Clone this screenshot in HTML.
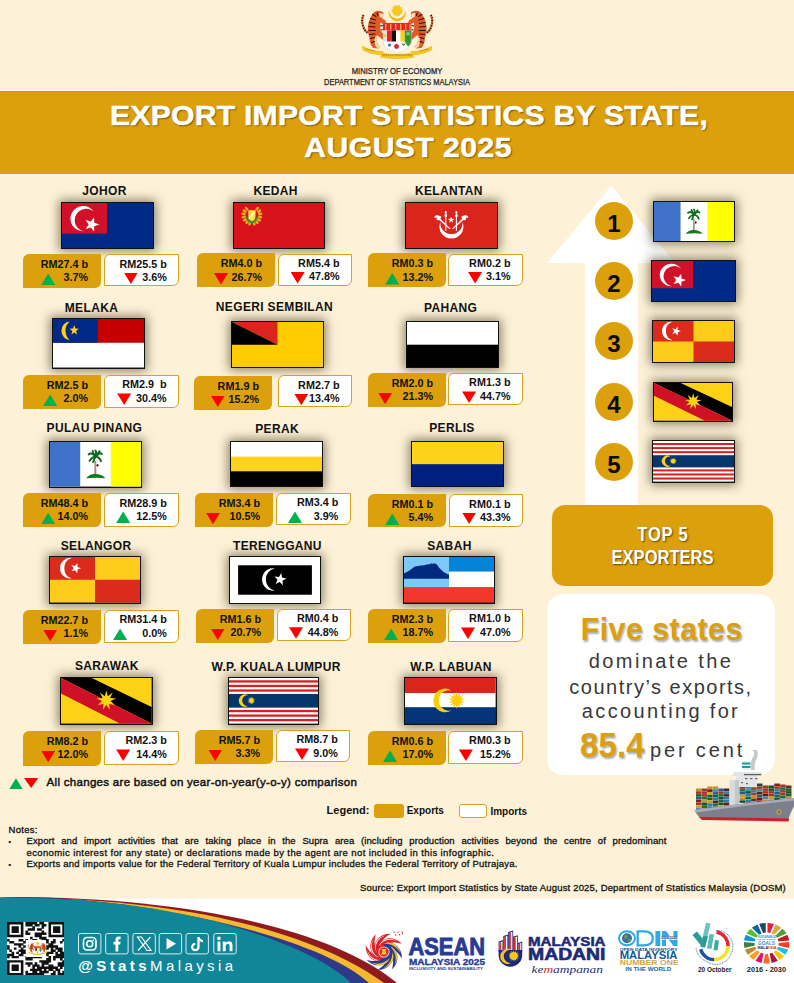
<!DOCTYPE html>
<html><head><meta charset="utf-8">
<style>
*{margin:0;padding:0;box-sizing:border-box}
html,body{width:794px;height:983px;overflow:hidden}
body{position:relative;background:#fdf2d8;font-family:"Liberation Sans",sans-serif;color:#111}
.a{position:absolute}
.band{position:absolute;left:0;top:90.9px;width:794px;height:82.8px;background:#dba00b;box-shadow:0 -1px 0 #fffaee,0 1px 0 #fffaee,inset 0 1px 0 #d89a02,inset 0 -1px 0 #d89a02}
.title{position:absolute;color:#fff;font-weight:bold;font-size:30.2px;line-height:1;text-shadow:1px 1.5px 1.5px rgba(60,40,0,.75);white-space:nowrap;transform:scaleY(.9);transform-origin:0 0;-webkit-text-stroke:.5px #fff}
.sn{position:absolute;width:200px;text-align:center;font-weight:bold;font-size:12px;line-height:14px;color:#111;white-space:nowrap;letter-spacing:.35px}
.flag{position:absolute;border:1px solid #111;box-shadow:0 0 10px 2px rgba(50,35,5,.55);background:#222;overflow:hidden}
.flag svg{display:block}
.gbox{position:absolute;background:#dba00b;border-radius:6px 0 6px 0}
.ibox{position:absolute;background:#fff;border:1px solid #d9a21a;border-radius:6px 0 6px 0}
.bt{position:absolute;font-weight:bold;font-size:10.8px;line-height:12px;white-space:nowrap;color:#111}
.tri{position:absolute}
.circ{position:absolute;width:38px;height:38px;border-radius:50%;background:#dba00b;color:#0a0a0a;font-weight:bold;font-size:24px;line-height:43px;text-align:center}
.top5{position:absolute;left:552px;top:505px;width:221px;height:80.5px;background:#dba00b;border-radius:13px}
.t5{position:absolute;left:552px;width:221px;text-align:center;color:#fff;font-weight:bold;font-size:16.5px;line-height:1;text-shadow:1px 1px 1.5px rgba(60,40,0,.75);transform:scaleY(1.2);transform-origin:0 0}
.wbox{position:absolute;left:547px;top:594px;width:228px;height:181px;background:#fff;border-radius:16px}
.wt{position:absolute;left:547px;width:228px;text-align:center;white-space:nowrap;line-height:1}
.note{position:absolute;font-size:9.5px;line-height:11px;color:#111;white-space:nowrap;-webkit-text-stroke:.3px #111}
</style></head><body>

<!-- coat of arms -->
<svg class="a" style="left:355px;top:0" width="85" height="62" viewBox="0 0 85 62">
  <defs>
    <g id="tiger">
      <path d="M8.5 15 Q6 20 8 26 Q9.5 31 13 33" fill="none" stroke="#e0622a" stroke-width="2"/>
      <path d="M8.5 15 Q6 20 8 26 Q9.5 31 13 33" fill="none" stroke="#3a1808" stroke-width="2" stroke-dasharray="1 1.6"/>
      <path d="M20 11.5 Q25 9.5 28.5 12.5 L28 16.5 L26.5 18 L30 20 L31.5 22.5 L30 24.5 L27 23.5 L25.5 22.5 Q24.5 27 26 31 L29.5 35.5 L31 39 L28.5 40.5 L24.5 37 L22 35 Q20.5 40 22.5 44 L25 46.5 L23.5 48.5 L18 48 Q14.5 44 14.5 38 Q12 32 13 26 Q14 19 17 15 Q18 12.5 20 11.5Z" fill="#e25a28"/>
      <path d="M24 13 Q27 12.5 28.3 14.5 L27.5 17 L25 17.5Z" fill="#f6e6c8"/>
      <path d="M22.5 35.5 Q20.5 40 22.5 44 L25 46.5 L23.5 48.5 L21 47 Q18.5 42 20 37Z" fill="#f3d6b0"/>
      <g stroke="#2a1208" stroke-width="1.05" fill="none" stroke-linecap="round">
        <path d="M17.5 14.5 L21 16.5"/><path d="M15.5 18.5 L20.5 20"/><path d="M14.5 22.5 L20 23.5"/>
        <path d="M14 26.5 L20 27"/><path d="M14 30.5 L20.5 30.5"/><path d="M14.5 34.5 L20 34"/>
        <path d="M15.5 38.5 L19.5 37.5"/><path d="M16.5 42.5 L19.5 41.5"/><path d="M22 13 L23 15.5"/>
        <path d="M25.5 26 L28 25.5"/><path d="M26.5 30 L29 29.5"/>
      </g>
    </g>
  <g id="coa">
  <use href="#tiger"/>
  <use href="#tiger" transform="translate(84.4,0) scale(-1,1)"/>
  <!-- crescent + sun -->
  <path d="M33.9 10.34 A8.6 8.6 0 1 0 50.5 10.34 A8.3 8.3 0 0 1 33.9 10.34 Z" fill="#f2b705"/>
  <polygon points="42.20,4.20 43.18,6.31 44.98,4.83 44.94,7.16 47.20,6.61 46.16,8.69 48.44,9.18 46.60,10.60 48.44,12.02 46.16,12.51 47.20,14.59 44.94,14.04 44.98,16.37 43.18,14.89 42.20,17.00 41.22,14.89 39.42,16.37 39.46,14.04 37.20,14.59 38.24,12.51 35.96,12.02 37.80,10.60 35.96,9.18 38.24,8.69 37.20,6.61 39.46,7.16 39.42,4.83 41.22,6.31" fill="#f7c21b"/>
  <circle cx="42.2" cy="10.6" r="4" fill="#f9c820"/>
  <!-- shield -->
  <path d="M28 23 H56.3 V40 Q56.3 49.5 42.15 53 Q28 49.5 28 40Z" fill="#fff" stroke="#c9b9a0" stroke-width=".4"/>
  <rect x="28" y="23" width="28.3" height="7.5" fill="#e8242a"/>
  <g fill="#f2c94a"><rect x="30.2" y="23.8" width="1.1" height="6"/><rect x="35.2" y="23.8" width="1.1" height="6"/><rect x="40.2" y="23.8" width="1.1" height="6"/><rect x="45.2" y="23.8" width="1.1" height="6"/><rect x="50.2" y="23.8" width="1.1" height="6"/><rect x="54.5" y="23.8" width="1.1" height="6"/></g>
  <rect x="28" y="30.5" width="4" height="11" fill="#d8e6ee"/>
  <rect x="28.7" y="34" width="2.6" height="3" fill="#f2c94a"/>
  <rect x="32" y="30.5" width="4.6" height="11" fill="#e8242a"/>
  <rect x="36.6" y="30.5" width="4.4" height="11" fill="#111"/>
  <rect x="41" y="30.5" width="4.4" height="11" fill="#fff"/>
  <rect x="45.4" y="30.5" width="4.4" height="11" fill="#f6d21c"/>
  <path d="M49.8 30.5 H56.3 V40 Q56.3 44 53 46.5 L49.8 41.5Z" fill="#2f9a3a"/>
  <circle cx="53" cy="34" r="2" fill="#7cc27a"/>
  <rect x="52.6" y="35" width=".8" height="4" fill="#6b4a2a"/>
  <circle cx="34.5" cy="45" r="1.6" fill="#3a6fc0"/>
  <circle cx="41.5" cy="46.5" r="2.4" fill="#d2232a"/>
  <path d="M46 43 L48.5 46 L51 43 L48.5 44.2Z" fill="#6b4a2a"/>
  <!-- ribbon -->
  <path d="M7 45.5 Q17 51.5 28.5 51 L28.5 55 Q16 55.5 7.5 50Z" fill="#f4c51f"/>
  <path d="M77.3 45.5 Q67.3 51.5 55.8 51 L55.8 55 Q68.3 55.5 76.8 50Z" fill="#f4c51f"/>
  <path d="M25.5 52.5 Q42 55.5 58.8 52.5 L58.8 57.5 Q42 60.5 25.5 57.5Z" fill="#f4c51f"/>
  <path d="M27.5 55 H57" stroke="#6b4a10" stroke-width=".7" stroke-dasharray="1.2 .6"/>
  <path d="M11 49 L20 51" stroke="#6b4a10" stroke-width=".6" stroke-dasharray="1 .6"/>
  <path d="M73.4 49 L64.4 51" stroke="#6b4a10" stroke-width=".6" stroke-dasharray="1 .6"/>
</g></defs><use href="#coa"/>
</svg>
<div class="a" style="left:0;top:66.2px;width:794px;text-align:center;font-size:8.6px;line-height:10px;color:#222;transform:scaleX(.89);transform-origin:397.5px 0;-webkit-text-stroke:.25px #222">MINISTRY OF ECONOMY</div>
<div class="a" style="left:0;top:77.3px;width:794px;text-align:center;font-size:8.6px;line-height:10px;color:#222;transform:scaleX(.868);transform-origin:397.5px 0;-webkit-text-stroke:.25px #222">DEPARTMENT OF STATISTICS MALAYSIA</div>

<div class="band"></div>
<div class="title" style="top:101.8px;left:110px;letter-spacing:.21px">EXPORT IMPORT STATISTICS BY STATE,</div>
<div class="title" style="top:134px;left:304.3px;letter-spacing:.42px">AUGUST 2025</div>

<!-- arrow -->
<svg class="a" style="left:540px;top:180px" width="150" height="330" viewBox="540 180 150 330">
  <polygon points="611.5,185.5 675,263 638,263 638,505 585,505 585,263 547,263" fill="#fff"/>
</svg>

<div class="sn" style="left:4.47px;top:184.1px">JOHOR</div>
<div class="flag" style="left:61px;top:202px;width:93px;height:47px"><svg viewBox="0 0 100 50" preserveAspectRatio="none" width="100%" height="100%"><rect width="100" height="50" fill="#002a85"/><rect width="49.5" height="34" fill="#d11129"/><path d="M35.25 9.76 A14.1 14.1 0 1 0 23.89 31.49 A12.7 12.7 0 1 1 35.25 9.76 Z" fill="#fff"/><polygon points="35.26,16.01 35.45,21.9 41,23.9 35.45,25.9 35.26,31.79 31.65,27.13 25.99,28.78 29.3,23.9 25.99,19.02 31.65,20.67" fill="#fff"/></svg></div>
<div class="gbox" style="left:23px;top:254px;width:78px;height:33.8px"></div><div class="bt" style="right:705.8px;top:258px">RM27.4 b</div><div class="bt" style="right:705.8px;top:271.2px">3.7%</div><div class="tri" style="left:41.2px;top:273.6px;width:14px;height:11.5px;background:#00b050;clip-path:polygon(50% 0,100% 100%,0 100%)"></div>
<div class="ibox" style="left:104px;top:254.2px;width:75px;height:32.3px"></div><div class="bt" style="right:627.2px;top:257.5px">RM25.5 b</div><div class="bt" style="right:627.2px;top:270.8px">3.6%</div><div class="tri" style="left:123.9px;top:272.6px;width:14px;height:11.5px;background:#ff0000;clip-path:polygon(0 0,100% 0,50% 100%)"></div>
<div class="sn" style="left:175.67px;top:184.3px">KEDAH</div>
<div class="flag" style="left:233px;top:202px;width:92px;height:47px"><svg viewBox="0 0 100 50" preserveAspectRatio="none" width="100%" height="100%"><rect width="100" height="50" fill="#d7121b"/><ellipse cx="14.05" cy="6.37" rx="1.5" ry="2.6" transform="rotate(321 14.05 6.37)" fill="#f6a81c"/><ellipse cx="11.85" cy="8.95" rx="1.5" ry="2.6" transform="rotate(300 11.85 8.95)" fill="#f6a81c"/><ellipse cx="10.71" cy="12.15" rx="1.5" ry="2.6" transform="rotate(279 10.71 12.15)" fill="#f6a81c"/><ellipse cx="10.8" cy="15.53" rx="1.5" ry="2.6" transform="rotate(258 10.8 15.53)" fill="#f6a81c"/><ellipse cx="12.1" cy="18.67" rx="1.5" ry="2.6" transform="rotate(237 12.1 18.67)" fill="#f6a81c"/><ellipse cx="14.43" cy="21.12" rx="1.5" ry="2.6" transform="rotate(216 14.43 21.12)" fill="#f6a81c"/><ellipse cx="17.49" cy="22.58" rx="1.5" ry="2.6" transform="rotate(195 17.49 22.58)" fill="#f6a81c"/><ellipse cx="22.31" cy="22.58" rx="1.5" ry="2.6" transform="rotate(165 22.31 22.58)" fill="#f6a81c"/><ellipse cx="25.37" cy="21.12" rx="1.5" ry="2.6" transform="rotate(144 25.37 21.12)" fill="#f6a81c"/><ellipse cx="27.7" cy="18.67" rx="1.5" ry="2.6" transform="rotate(123 27.7 18.67)" fill="#f6a81c"/><ellipse cx="29" cy="15.53" rx="1.5" ry="2.6" transform="rotate(102 29 15.53)" fill="#f6a81c"/><ellipse cx="29.09" cy="12.15" rx="1.5" ry="2.6" transform="rotate(81 29.09 12.15)" fill="#f6a81c"/><ellipse cx="27.95" cy="8.95" rx="1.5" ry="2.6" transform="rotate(60 27.95 8.95)" fill="#f6a81c"/><ellipse cx="25.75" cy="6.37" rx="1.5" ry="2.6" transform="rotate(39 25.75 6.37)" fill="#f6a81c"/><path d="M14.66 12.78 A6.2 6.2 0 1 0 25.14 12.78 A5.4 5.4 0 1 1 14.66 12.78 Z" fill="#2e9a35"/><path d="M15.9 8.1 H23.9 V14.6 Q23.9 18.6 19.9 20.1 Q15.9 18.6 15.9 14.6Z" fill="#ffe640"/><path d="M16.4 17.6 L23.4 9.6" stroke="#fff" stroke-width="1.6" opacity=".8"/></svg></div>
<div class="gbox" style="left:197px;top:253.4px;width:78px;height:33.6px"></div><div class="bt" style="right:531.8px;top:257.4px">RM4.0 b</div><div class="bt" style="right:531.8px;top:270.6px">26.7%</div><div class="tri" style="left:214px;top:273px;width:14px;height:11.5px;background:#ff0000;clip-path:polygon(0 0,100% 0,50% 100%)"></div>
<div class="ibox" style="left:278.2px;top:253.6px;width:73.5px;height:32.9px"></div><div class="bt" style="right:454.5px;top:256.9px">RM5.4 b</div><div class="bt" style="right:454.5px;top:270.2px">47.8%</div><div class="tri" style="left:290.6px;top:272px;width:14px;height:11.5px;background:#ff0000;clip-path:polygon(0 0,100% 0,50% 100%)"></div>
<div class="sn" style="left:348.87px;top:184.3px">KELANTAN</div>
<div class="flag" style="left:405px;top:202px;width:93px;height:47px"><svg viewBox="0 0 100 50" preserveAspectRatio="none" width="100%" height="100%"><rect width="100" height="50" fill="#da251d"/><path d="M37.76 21.12 A13.2 13.2 0 1 0 62.04 21.12 A12.2 12.2 0 1 1 37.76 21.12 Z" fill="#fff"/><polygon points="49.6,15.2 50.48,17.59 53.02,17.69 51.03,19.26 51.72,21.71 49.6,20.3 47.48,21.71 48.17,19.26 46.18,17.69 48.72,17.59" fill="#fff"/><g fill="#fff"><rect x="43.1" y="11" width="1.2" height="20"/><rect x="54.8" y="11" width="1.2" height="20"/><ellipse cx="43.7" cy="10.2" rx="1.1" ry="1.4"/><ellipse cx="55.4" cy="10.2" rx="1.1" ry="1.4"/><ellipse cx="43.7" cy="14.2" rx="1.5" ry="1.6"/><ellipse cx="55.4" cy="14.2" rx="1.5" ry="1.6"/></g><path d="M31 15.5 Q32.5 12.5 36 14 Q37.5 15 39 15 L37.8 17.6 L49 28.5 L48 29.3 L36.5 19 Q34.5 19.8 33.5 18 Q34.5 16.5 33.2 16.2 Q32 17 31 15.5Z" fill="#fff"/><path d="M68.6 15.5 Q67.1 12.5 63.6 14 Q62.1 15 60.6 15 L61.8 17.6 L50.6 28.5 L51.6 29.3 L63.1 19 Q65.1 19.8 66.1 18 Q65.1 16.5 66.4 16.2 Q67.6 17 68.6 15.5Z" fill="#fff"/></svg></div>
<div class="gbox" style="left:368px;top:253.4px;width:78px;height:33.6px"></div><div class="bt" style="right:360.8px;top:257.4px">RM0.3 b</div><div class="bt" style="right:360.8px;top:270.6px">13.2%</div><div class="tri" style="left:385.3px;top:273px;width:14px;height:11.5px;background:#00b050;clip-path:polygon(50% 0,100% 100%,0 100%)"></div>
<div class="ibox" style="left:448.4px;top:253.6px;width:74.3px;height:32.9px"></div><div class="bt" style="right:283.5px;top:256.9px">RM0.2 b</div><div class="bt" style="right:283.5px;top:270.2px">3.1%</div><div class="tri" style="left:468.1px;top:272px;width:14px;height:11.5px;background:#ff0000;clip-path:polygon(0 0,100% 0,50% 100%)"></div>
<div class="sn" style="left:-8.53px;top:300.8px">MELAKA</div>
<div class="flag" style="left:52px;top:318px;width:93px;height:50.5px"><svg viewBox="0 0 100 50" preserveAspectRatio="none" width="100%" height="100%"><rect width="100" height="50" fill="#fff"/><rect width="100" height="24.5" fill="#c40000"/><rect width="49" height="24.5" fill="#012a87"/><path d="M18.41 2.47 A9.75 9.75 0 0 0 18.41 21.93 A12.4 12.4 0 0 1 18.41 2.47 Z" fill="#fcd116"/><polygon points="23.3,6.3 24.59,9.82 28.34,9.96 25.39,12.28 26.42,15.89 23.3,13.8 20.18,15.89 21.21,12.28 18.26,9.96 22.01,9.82" fill="#fcd116"/></svg></div>
<div class="gbox" style="left:23px;top:375px;width:78px;height:33.5px"></div><div class="bt" style="right:705.8px;top:379px">RM2.5 b</div><div class="bt" style="right:705.8px;top:392.2px">2.0%</div><div class="tri" style="left:43.2px;top:394.6px;width:14px;height:11.5px;background:#00b050;clip-path:polygon(50% 0,100% 100%,0 100%)"></div>
<div class="ibox" style="left:104.2px;top:375px;width:74.6px;height:33px"></div><div class="bt" style="right:627.4px;top:378.3px">RM2.9  b</div><div class="bt" style="right:627.4px;top:391.6px">30.4%</div><div class="tri" style="left:117.2px;top:393.4px;width:14px;height:11.5px;background:#ff0000;clip-path:polygon(0 0,100% 0,50% 100%)"></div>
<div class="sn" style="left:174.47px;top:300.3px">NEGERI SEMBILAN</div>
<div class="flag" style="left:231px;top:321px;width:93px;height:47.4px"><svg viewBox="0 0 100 50" preserveAspectRatio="none" width="100%" height="100%"><rect width="100" height="50" fill="#ffcc00"/><polygon points="0,0 50,0 50,25" fill="#dc241f"/><polygon points="0,0 50,25 0,25" fill="#000"/></svg></div>
<div class="gbox" style="left:194.3px;top:376px;width:77.5px;height:33.6px"></div><div class="bt" style="right:535px;top:380px">RM1.9 b</div><div class="bt" style="right:535px;top:393.2px">15.2%</div><div class="tri" style="left:210.8px;top:395.6px;width:14px;height:11.5px;background:#ff0000;clip-path:polygon(0 0,100% 0,50% 100%)"></div>
<div class="ibox" style="left:278.2px;top:375.3px;width:73.5px;height:32.1px"></div><div class="bt" style="right:454.5px;top:378.6px">RM2.7 b</div><div class="bt" style="right:454.5px;top:391.9px">13.4%</div><div class="tri" style="left:294.3px;top:393.7px;width:14px;height:11.5px;background:#ff0000;clip-path:polygon(0 0,100% 0,50% 100%)"></div>
<div class="sn" style="left:350.67px;top:301px">PAHANG</div>
<div class="flag" style="left:406px;top:321px;width:93px;height:47.4px"><svg viewBox="0 0 100 50" preserveAspectRatio="none" width="100%" height="100%"><rect width="100" height="50" fill="#000"/><rect width="100" height="25" fill="#fff"/></svg></div>
<div class="gbox" style="left:368px;top:373.2px;width:78px;height:33.6px"></div><div class="bt" style="right:360.8px;top:377.2px">RM2.0 b</div><div class="bt" style="right:360.8px;top:390.4px">21.3%</div><div class="tri" style="left:378.2px;top:392.8px;width:14px;height:11.5px;background:#ff0000;clip-path:polygon(0 0,100% 0,50% 100%)"></div>
<div class="ibox" style="left:448.4px;top:373px;width:74.3px;height:32.3px"></div><div class="bt" style="right:283.5px;top:376.3px">RM1.3 b</div><div class="bt" style="right:283.5px;top:389.6px">44.7%</div><div class="tri" style="left:462.1px;top:391.4px;width:14px;height:11.5px;background:#ff0000;clip-path:polygon(0 0,100% 0,50% 100%)"></div>
<div class="sn" style="left:-5.63px;top:420.8px">PULAU PINANG</div>
<div class="flag" style="left:49px;top:441px;width:93px;height:46.5px"><svg viewBox="0 0 100 50" preserveAspectRatio="none" width="100%" height="100%"><rect width="100" height="50" fill="#fff"/><rect width="33.2" height="50" fill="#3d72c8"/><rect x="66.8" width="33.2" height="50" fill="#ffff00"/><path d="M48.9 21 L50.7 21 L51 37 L48.6 37Z" fill="#b08a86"/><path d="M39.5 40.8 Q44 35.5 50 36 Q56 35.8 61 40.6 Q50 39.5 39.5 40.8Z" fill="#127a1c"/><g fill="none" stroke="#0d6a1e" stroke-width="2.2" stroke-linecap="round"><path d="M50 16 Q45 11 42.5 14"/><path d="M50 16 Q46 17 43.5 21"/><path d="M50 16 Q48.5 19.5 47.5 22.5"/><path d="M50 16 Q55 11 57 13.5"/><path d="M50 16 Q54.5 17 56 21.5"/><path d="M50 16 Q51.5 12 50 9.5"/><path d="M50 16 Q46.5 11.5 47 10"/><path d="M50 16 Q53.5 12 54.5 10.5"/></g><ellipse cx="52.2" cy="26.2" rx="1.1" ry="1.6" fill="#5a1010"/></svg></div>
<div class="gbox" style="left:23px;top:493.2px;width:78px;height:34.2px"></div><div class="bt" style="right:705.8px;top:497.2px">RM48.4 b</div><div class="bt" style="right:705.8px;top:510.4px">14.0%</div><div class="tri" style="left:41.2px;top:512.8px;width:14px;height:11.5px;background:#00b050;clip-path:polygon(50% 0,100% 100%,0 100%)"></div>
<div class="ibox" style="left:104px;top:493.2px;width:75px;height:33.8px"></div><div class="bt" style="right:627.2px;top:496.5px">RM28.9 b</div><div class="bt" style="right:627.2px;top:509.8px">12.5%</div><div class="tri" style="left:116.2px;top:511.6px;width:14px;height:11.5px;background:#00b050;clip-path:polygon(50% 0,100% 100%,0 100%)"></div>
<div class="sn" style="left:177.17px;top:421.9px">PERAK</div>
<div class="flag" style="left:230px;top:441px;width:93px;height:46.4px"><svg viewBox="0 0 100 50" preserveAspectRatio="none" width="100%" height="100%"><rect width="100" height="50" fill="#000"/><rect width="100" height="33" fill="#fdd21a"/><rect width="100" height="16.5" fill="#fff"/></svg></div>
<div class="gbox" style="left:195.4px;top:493.2px;width:77.6px;height:33.6px"></div><div class="bt" style="right:533.8px;top:497.2px">RM3.4 b</div><div class="bt" style="right:533.8px;top:510.4px">10.5%</div><div class="tri" style="left:206px;top:512.8px;width:14px;height:11.5px;background:#ff0000;clip-path:polygon(0 0,100% 0,50% 100%)"></div>
<div class="ibox" style="left:276.3px;top:493px;width:74.3px;height:32.3px"></div><div class="bt" style="right:455.6px;top:496.3px">RM3.4 b</div><div class="bt" style="right:455.6px;top:509.6px">3.9%</div><div class="tri" style="left:288px;top:511.4px;width:14px;height:11.5px;background:#00b050;clip-path:polygon(50% 0,100% 100%,0 100%)"></div>
<div class="sn" style="left:351.97px;top:421.4px">PERLIS</div>
<div class="flag" style="left:411px;top:441px;width:93px;height:46.4px"><svg viewBox="0 0 100 50" preserveAspectRatio="none" width="100%" height="100%"><rect width="100" height="50" fill="#001f7e"/><rect width="100" height="25" fill="#fdd21a"/></svg></div>
<div class="gbox" style="left:368px;top:493.8px;width:78px;height:33.6px"></div><div class="bt" style="right:360.8px;top:497.8px">RM0.1 b</div><div class="bt" style="right:360.8px;top:511px">5.4%</div><div class="tri" style="left:385.3px;top:513.4px;width:14px;height:11.5px;background:#00b050;clip-path:polygon(50% 0,100% 100%,0 100%)"></div>
<div class="ibox" style="left:449.3px;top:494.2px;width:73.4px;height:33.2px"></div><div class="bt" style="right:283.5px;top:497.5px">RM0.1 b</div><div class="bt" style="right:283.5px;top:510.8px">43.3%</div><div class="tri" style="left:462.1px;top:512.6px;width:14px;height:11.5px;background:#ff0000;clip-path:polygon(0 0,100% 0,50% 100%)"></div>
<div class="sn" style="left:-3.93px;top:539.3px">SELANGOR</div>
<div class="flag" style="left:49px;top:556px;width:92px;height:47.5px"><svg viewBox="0 0 100 50" preserveAspectRatio="none" width="100%" height="100%"><rect width="100" height="50" fill="#fdcc1a"/><rect width="50" height="25" fill="#dc2a1d"/><rect x="50" y="25" width="50" height="25" fill="#dc2a1d"/><path d="M23.96 1.06 A11.3 11.3 0 1 0 23.96 23.44 A11.8 11.8 0 0 1 23.96 1.06 Z" fill="#fff"/><polygon points="30.42,6.69 30.54,10.89 34.5,12.3 30.54,13.71 30.42,17.91 27.86,14.58 23.83,15.77 26.2,12.3 23.83,8.83 27.86,10.02" fill="#fff"/></svg></div>
<div class="gbox" style="left:23px;top:610.2px;width:78px;height:33.6px"></div><div class="bt" style="right:705.8px;top:614.2px">RM22.7 b</div><div class="bt" style="right:705.8px;top:627.4px">1.1%</div><div class="tri" style="left:43.2px;top:629.8px;width:14px;height:11.5px;background:#ff0000;clip-path:polygon(0 0,100% 0,50% 100%)"></div>
<div class="ibox" style="left:104px;top:610px;width:75px;height:33px"></div><div class="bt" style="right:627.2px;top:613.3px">RM31.4 b</div><div class="bt" style="right:627.2px;top:626.6px">0.0%</div><div class="tri" style="left:113.1px;top:628.4px;width:14px;height:11.5px;background:#00b050;clip-path:polygon(50% 0,100% 100%,0 100%)"></div>
<div class="sn" style="left:177.47px;top:539.3px">TERENGGANU</div>
<div class="flag" style="left:229px;top:556px;width:92px;height:48px"><svg viewBox="0 0 100 50" preserveAspectRatio="none" width="100%" height="100%"><rect width="100" height="50" fill="#fff"/><rect x="9" y="9" width="82" height="32" fill="#000"/><path d="M49.76 12.24 A12.3 12.3 0 1 0 49.76 36.56 A12.4 12.4 0 0 1 49.76 12.24 Z" fill="#fff"/><polygon points="56.92,17.51 57.79,22.39 62.63,23.43 58.26,25.76 58.77,30.69 55.2,27.26 50.66,29.26 52.83,24.8 49.52,21.11 54.43,21.79" fill="#fff"/></svg></div>
<div class="gbox" style="left:196px;top:608.9px;width:78px;height:33.8px"></div><div class="bt" style="right:532.8px;top:612.9px">RM1.6 b</div><div class="bt" style="right:532.8px;top:626.1px">20.7%</div><div class="tri" style="left:210.8px;top:628.5px;width:14px;height:11.5px;background:#ff0000;clip-path:polygon(0 0,100% 0,50% 100%)"></div>
<div class="ibox" style="left:277.4px;top:608.9px;width:73.2px;height:32.5px"></div><div class="bt" style="right:455.6px;top:612.2px">RM0.4 b</div><div class="bt" style="right:455.6px;top:625.5px">44.8%</div><div class="tri" style="left:289px;top:627.3px;width:14px;height:11.5px;background:#ff0000;clip-path:polygon(0 0,100% 0,50% 100%)"></div>
<div class="sn" style="left:349.47px;top:539.3px">SABAH</div>
<div class="flag" style="left:403px;top:556px;width:92px;height:47.5px"><svg viewBox="0 0 100 50" preserveAspectRatio="none" width="100%" height="100%"><rect width="100" height="50" fill="#f4372d"/><rect width="100" height="33" fill="#fff"/><rect width="100" height="16" fill="#0583d7"/><rect width="50" height="33" fill="#7dc8f8"/><path d="M0 18 Q5 16 9 12.5 L12 10.5 L16 10 L19 9.3 L23 9 L26 8 L28 8.3 L30 7 L31.5 7.6 L33 7 L36 7.8 Q39 13 44 16.5 Q47 18.5 50 19.5 L50 24 L0 24Z" fill="#012a7f"/></svg></div>
<div class="gbox" style="left:368px;top:609px;width:78px;height:33.7px"></div><div class="bt" style="right:360.8px;top:613px">RM2.3 b</div><div class="bt" style="right:360.8px;top:626.2px">18.7%</div><div class="tri" style="left:384.2px;top:628.6px;width:14px;height:11.5px;background:#00b050;clip-path:polygon(50% 0,100% 100%,0 100%)"></div>
<div class="ibox" style="left:448.2px;top:609px;width:74.5px;height:33px"></div><div class="bt" style="right:283.5px;top:612.3px">RM1.0 b</div><div class="bt" style="right:283.5px;top:625.6px">47.0%</div><div class="tri" style="left:461px;top:627.4px;width:14px;height:11.5px;background:#ff0000;clip-path:polygon(0 0,100% 0,50% 100%)"></div>
<div class="sn" style="left:6.87px;top:659.3px">SARAWAK</div>
<div class="flag" style="left:60px;top:677px;width:92.6px;height:47.5px"><svg viewBox="0 0 100 50" preserveAspectRatio="none" width="100%" height="100%"><rect width="100" height="50" fill="#fcd116"/><polygon points="0,0 34,0 100,32 100,50" fill="#000"/><polygon points="0,0 100,50 65,50 0,17" fill="#ce1126"/><polygon points="50,13.5 51.64,19.99 57.07,16.07 54.16,22.1 60.83,22.59 54.73,25.33 59.53,30 53.09,28.18 53.76,34.84 50,29.3 46.24,34.84 46.91,28.18 40.47,30 45.27,25.33 39.17,22.59 45.84,22.1 42.93,16.07 48.36,19.99" fill="#fcd116"/></svg></div>
<div class="gbox" style="left:23px;top:731.2px;width:78px;height:34.6px"></div><div class="bt" style="right:705.8px;top:735.2px">RM8.2 b</div><div class="bt" style="right:705.8px;top:748.4px">12.0%</div><div class="tri" style="left:41.2px;top:750.8px;width:14px;height:11.5px;background:#ff0000;clip-path:polygon(0 0,100% 0,50% 100%)"></div>
<div class="ibox" style="left:104px;top:731px;width:75px;height:34px"></div><div class="bt" style="right:627.2px;top:734.3px">RM2.3 b</div><div class="bt" style="right:627.2px;top:747.6px">14.4%</div><div class="tri" style="left:116.2px;top:749.4px;width:14px;height:11.5px;background:#ff0000;clip-path:polygon(0 0,100% 0,50% 100%)"></div>
<div class="sn" style="left:176.07px;top:660.3px">W.P. KUALA LUMPUR</div>
<div class="flag" style="left:227.5px;top:677px;width:91.5px;height:47.6px"><svg viewBox="0 0 100 50" preserveAspectRatio="none" width="100%" height="100%"><rect width="100" height="50" fill="#fff"/><rect y="2.5" width="100" height="2.5" fill="#d81e1e"/><rect y="35" width="100" height="2.5" fill="#d81e1e"/><rect y="7.5" width="100" height="2.5" fill="#d81e1e"/><rect y="40" width="100" height="2.5" fill="#d81e1e"/><rect y="12.5" width="100" height="2.5" fill="#d81e1e"/><rect y="45" width="100" height="2.5" fill="#d81e1e"/><rect y="17.5" width="100" height="15" fill="#04356b"/><path d="M21.74 19.13 A6.9 6.9 0 1 0 21.74 30.47 A5.8 5.8 0 1 1 21.74 19.13 Z" fill="#fcd116"/><polygon points="25,20.4 25.54,22.44 26.91,20.84 26.51,22.91 28.44,22.06 27.18,23.75 29.29,23.82 27.42,24.8 29.29,25.78 27.18,25.85 28.44,27.54 26.51,26.69 26.91,28.76 25.54,27.16 25,29.2 24.46,27.16 23.09,28.76 23.49,26.69 21.56,27.54 22.82,25.85 20.71,25.78 22.58,24.8 20.71,23.82 22.82,23.75 21.56,22.06 23.49,22.91 23.09,20.84 24.46,22.44" fill="#fcd116"/></svg></div>
<div class="gbox" style="left:195.4px;top:730px;width:77.6px;height:33.6px"></div><div class="bt" style="right:533.8px;top:734px">RM5.7 b</div><div class="bt" style="right:533.8px;top:747.2px">3.3%</div><div class="tri" style="left:208.2px;top:749.6px;width:14px;height:11.5px;background:#ff0000;clip-path:polygon(0 0,100% 0,50% 100%)"></div>
<div class="ibox" style="left:276.3px;top:730px;width:73.7px;height:32px"></div><div class="bt" style="right:456.2px;top:733.3px">RM8.7 b</div><div class="bt" style="right:456.2px;top:746.6px">9.0%</div><div class="tri" style="left:295px;top:748.4px;width:14px;height:11.5px;background:#ff0000;clip-path:polygon(0 0,100% 0,50% 100%)"></div>
<div class="sn" style="left:351.07px;top:660.3px">W.P. LABUAN</div>
<div class="flag" style="left:404px;top:677px;width:92.6px;height:47.6px"><svg viewBox="0 0 100 50" preserveAspectRatio="none" width="100%" height="100%"><rect width="100" height="50" fill="#04357a"/><rect width="100" height="32" fill="#fff"/><rect width="100" height="16.5" fill="#da251d"/><path d="M51.42 13.79 A13 13 0 1 0 51.42 35.41 A11.2 11.2 0 1 1 51.42 13.79 Z" fill="#fccf0a"/><polygon points="57.1,15.2 58.25,19.56 61.18,16.13 60.32,20.56 64.45,18.74 61.76,22.36 66.26,22.51 62.27,24.6 66.26,26.69 61.76,26.84 64.45,30.46 60.32,28.64 61.18,33.07 58.25,29.64 57.1,34 55.95,29.64 53.02,33.07 53.88,28.64 49.75,30.46 52.44,26.84 47.94,26.69 51.93,24.6 47.94,22.51 52.44,22.36 49.75,18.74 53.88,20.56 53.02,16.13 55.95,19.56" fill="#fccf0a"/></svg></div>
<div class="gbox" style="left:368px;top:731px;width:78px;height:33.6px"></div><div class="bt" style="right:360.8px;top:735px">RM0.6 b</div><div class="bt" style="right:360.8px;top:748.2px">17.0%</div><div class="tri" style="left:383.1px;top:750.6px;width:14px;height:11.5px;background:#00b050;clip-path:polygon(50% 0,100% 100%,0 100%)"></div>
<div class="ibox" style="left:448px;top:731px;width:74.7px;height:32.6px"></div><div class="bt" style="right:283.5px;top:734.3px">RM0.3 b</div><div class="bt" style="right:283.5px;top:747.6px">15.2%</div><div class="tri" style="left:458.9px;top:749.4px;width:14px;height:11.5px;background:#ff0000;clip-path:polygon(0 0,100% 0,50% 100%)"></div>

<!-- circles -->
<div class="circ" style="left:595px;top:202px">1</div>
<div class="circ" style="left:595px;top:262px">2</div>
<div class="circ" style="left:595px;top:322px">3</div>
<div class="circ" style="left:595px;top:383px">4</div>
<div class="circ" style="left:595px;top:443px">5</div>

<div class="flag" style="left:653px;top:201px;width:82px;height:41px"><svg viewBox="0 0 100 50" preserveAspectRatio="none" width="100%" height="100%"><rect width="100" height="50" fill="#fff"/><rect width="33.2" height="50" fill="#3d72c8"/><rect x="66.8" width="33.2" height="50" fill="#ffff00"/><path d="M48.9 21 L50.7 21 L51 37 L48.6 37Z" fill="#b08a86"/><path d="M39.5 40.8 Q44 35.5 50 36 Q56 35.8 61 40.6 Q50 39.5 39.5 40.8Z" fill="#127a1c"/><g fill="none" stroke="#0d6a1e" stroke-width="2.2" stroke-linecap="round"><path d="M50 16 Q45 11 42.5 14"/><path d="M50 16 Q46 17 43.5 21"/><path d="M50 16 Q48.5 19.5 47.5 22.5"/><path d="M50 16 Q55 11 57 13.5"/><path d="M50 16 Q54.5 17 56 21.5"/><path d="M50 16 Q51.5 12 50 9.5"/><path d="M50 16 Q46.5 11.5 47 10"/><path d="M50 16 Q53.5 12 54.5 10.5"/></g><ellipse cx="52.2" cy="26.2" rx="1.1" ry="1.6" fill="#5a1010"/></svg></div><div class="flag" style="left:651px;top:260px;width:85px;height:42px"><svg viewBox="0 0 100 50" preserveAspectRatio="none" width="100%" height="100%"><rect width="100" height="50" fill="#002a85"/><rect width="49.5" height="34" fill="#d11129"/><path d="M35.25 9.76 A14.1 14.1 0 1 0 23.89 31.49 A12.7 12.7 0 1 1 35.25 9.76 Z" fill="#fff"/><polygon points="35.26,16.01 35.45,21.9 41,23.9 35.45,25.9 35.26,31.79 31.65,27.13 25.99,28.78 29.3,23.9 25.99,19.02 31.65,20.67" fill="#fff"/></svg></div><div class="flag" style="left:652px;top:320px;width:83px;height:43px"><svg viewBox="0 0 100 50" preserveAspectRatio="none" width="100%" height="100%"><rect width="100" height="50" fill="#fdcc1a"/><rect width="50" height="25" fill="#dc2a1d"/><rect x="50" y="25" width="50" height="25" fill="#dc2a1d"/><path d="M23.96 1.06 A11.3 11.3 0 1 0 23.96 23.44 A11.8 11.8 0 0 1 23.96 1.06 Z" fill="#fff"/><polygon points="30.42,6.69 30.54,10.89 34.5,12.3 30.54,13.71 30.42,17.91 27.86,14.58 23.83,15.77 26.2,12.3 23.83,8.83 27.86,10.02" fill="#fff"/></svg></div><div class="flag" style="left:653px;top:382px;width:80.4px;height:39.7px"><svg viewBox="0 0 100 50" preserveAspectRatio="none" width="100%" height="100%"><rect width="100" height="50" fill="#fcd116"/><polygon points="0,0 34,0 100,32 100,50" fill="#000"/><polygon points="0,0 100,50 65,50 0,17" fill="#ce1126"/><polygon points="50,13.5 51.64,19.99 57.07,16.07 54.16,22.1 60.83,22.59 54.73,25.33 59.53,30 53.09,28.18 53.76,34.84 50,29.3 46.24,34.84 46.91,28.18 40.47,30 45.27,25.33 39.17,22.59 45.84,22.1 42.93,16.07 48.36,19.99" fill="#fcd116"/></svg></div><div class="flag" style="left:652px;top:440px;width:83px;height:42.6px"><svg viewBox="0 0 100 50" preserveAspectRatio="none" width="100%" height="100%"><rect width="100" height="50" fill="#fff"/><rect y="2.5" width="100" height="2.5" fill="#d81e1e"/><rect y="35" width="100" height="2.5" fill="#d81e1e"/><rect y="7.5" width="100" height="2.5" fill="#d81e1e"/><rect y="40" width="100" height="2.5" fill="#d81e1e"/><rect y="12.5" width="100" height="2.5" fill="#d81e1e"/><rect y="45" width="100" height="2.5" fill="#d81e1e"/><rect y="17.5" width="100" height="15" fill="#04356b"/><path d="M21.74 19.13 A6.9 6.9 0 1 0 21.74 30.47 A5.8 5.8 0 1 1 21.74 19.13 Z" fill="#fcd116"/><polygon points="25,20.4 25.54,22.44 26.91,20.84 26.51,22.91 28.44,22.06 27.18,23.75 29.29,23.82 27.42,24.8 29.29,25.78 27.18,25.85 28.44,27.54 26.51,26.69 26.91,28.76 25.54,27.16 25,29.2 24.46,27.16 23.09,28.76 23.49,26.69 21.56,27.54 22.82,25.85 20.71,25.78 22.58,24.8 20.71,23.82 22.82,23.75 21.56,22.06 23.49,22.91 23.09,20.84 24.46,22.44" fill="#fcd116"/></svg></div>

<div class="top5"></div>
<div class="t5" style="top:523.5px;letter-spacing:.8px;padding-left:.8px">TOP 5</div>
<div class="t5" style="top:546.5px">EXPORTERS</div>

<div class="wbox"></div>
<div class="wt" style="top:613.6px;padding-left:1.5px;color:#dba00b;font-weight:bold;font-size:30.5px;letter-spacing:.4px;text-shadow:1px 2px 2px rgba(70,70,90,.45)">Five states</div>
<div class="wt" style="top:650.6px;font-size:20px;letter-spacing:2.4px;color:#383838">dominate the</div>
<div class="wt" style="top:676.5px;font-size:20px;letter-spacing:1.5px;color:#383838">country’s exports,</div>
<div class="wt" style="top:701px;font-size:20px;letter-spacing:2.33px;color:#383838">accounting for</div>
<div class="a" style="left:580px;top:727.5px;color:#dba00b;font-weight:bold;font-size:34.5px;line-height:1;transform:scaleX(.962);transform-origin:0 0;text-shadow:1px 2px 2px rgba(70,70,90,.45)">85.4</div>
<div class="a" style="left:650px;top:740px;font-size:20px;line-height:1;letter-spacing:2.85px;color:#383838">per cent</div>

<!-- ship -->
<svg class="a" style="left:690px;top:750px" width="104" height="80" viewBox="690 750 104 80">
  <rect x="696.0" y="788.5" width="5.4" height="2.6" fill="#c98a2a"/><rect x="696.0" y="791.3" width="5.4" height="2.6" fill="#9c3a26"/><rect x="696.0" y="794.1" width="5.4" height="2.6" fill="#1d5e34"/><rect x="696.0" y="796.9" width="5.4" height="2.6" fill="#235d8a"/><rect x="696.0" y="799.7" width="5.4" height="2.6" fill="#7a2424"/><rect x="696.0" y="802.5" width="5.4" height="2.6" fill="#9c3a26"/><rect x="696.0" y="805.3" width="5.4" height="2.6" fill="#c99a2c"/><rect x="696.0" y="808.1" width="5.4" height="2.6" fill="#3a8cb0"/><rect x="701.6" y="788.5" width="5.4" height="2.6" fill="#9c3a26"/><rect x="701.6" y="791.3" width="5.4" height="2.6" fill="#a8322a"/><rect x="701.6" y="794.1" width="5.4" height="2.6" fill="#9c3a26"/><rect x="701.6" y="796.9" width="5.4" height="2.6" fill="#1f6b45"/><rect x="701.6" y="799.7" width="5.4" height="2.6" fill="#c99a2c"/><rect x="701.6" y="802.5" width="5.4" height="2.6" fill="#174f3a"/><rect x="701.6" y="805.3" width="5.4" height="2.6" fill="#1d5e34"/><rect x="701.6" y="808.1" width="5.4" height="2.6" fill="#c98a2a"/><rect x="707.2" y="786.5" width="5.4" height="2.6" fill="#c98a2a"/><rect x="707.2" y="789.3" width="5.4" height="2.6" fill="#5a2020"/><rect x="707.2" y="792.1" width="5.4" height="2.6" fill="#c99a2c"/><rect x="707.2" y="794.9" width="5.4" height="2.6" fill="#1d5e34"/><rect x="707.2" y="797.7" width="5.4" height="2.6" fill="#1d5e34"/><rect x="707.2" y="800.5" width="5.4" height="2.6" fill="#c99a2c"/><rect x="707.2" y="803.3" width="5.4" height="2.6" fill="#2d7fa6"/><rect x="707.2" y="806.1" width="5.4" height="2.6" fill="#3a8cb0"/><rect x="707.2" y="808.9" width="5.4" height="2.6" fill="#235d8a"/><rect x="712.8" y="786.5" width="5.4" height="2.6" fill="#c98a2a"/><rect x="712.8" y="789.3" width="5.4" height="2.6" fill="#3a8cb0"/><rect x="712.8" y="792.1" width="5.4" height="2.6" fill="#235d8a"/><rect x="712.8" y="794.9" width="5.4" height="2.6" fill="#1d5e34"/><rect x="712.8" y="797.7" width="5.4" height="2.6" fill="#2d7fa6"/><rect x="712.8" y="800.5" width="5.4" height="2.6" fill="#5a2020"/><rect x="712.8" y="803.3" width="5.4" height="2.6" fill="#1f6b45"/><rect x="712.8" y="806.1" width="5.4" height="2.6" fill="#3a8cb0"/><rect x="712.8" y="808.9" width="5.4" height="2.6" fill="#a8322a"/><rect x="718.4" y="788.5" width="5.4" height="2.6" fill="#235d8a"/><rect x="718.4" y="791.3" width="5.4" height="2.6" fill="#9c3a26"/><rect x="718.4" y="794.1" width="5.4" height="2.6" fill="#1f6b45"/><rect x="718.4" y="796.9" width="5.4" height="2.6" fill="#174f3a"/><rect x="718.4" y="799.7" width="5.4" height="2.6" fill="#1f6b45"/><rect x="718.4" y="802.5" width="5.4" height="2.6" fill="#174f3a"/><rect x="718.4" y="805.3" width="5.4" height="2.6" fill="#c99a2c"/><rect x="718.4" y="808.1" width="5.4" height="2.6" fill="#9c3a26"/><rect x="724.0" y="788.5" width="5.4" height="2.6" fill="#5a2020"/><rect x="724.0" y="791.3" width="5.4" height="2.6" fill="#2d7fa6"/><rect x="724.0" y="794.1" width="5.4" height="2.6" fill="#5a2020"/><rect x="724.0" y="796.9" width="5.4" height="2.6" fill="#2d7fa6"/><rect x="724.0" y="799.7" width="5.4" height="2.6" fill="#2d7fa6"/><rect x="724.0" y="802.5" width="5.4" height="2.6" fill="#5a2020"/><rect x="724.0" y="805.3" width="5.4" height="2.6" fill="#9c3a26"/><rect x="724.0" y="808.1" width="5.4" height="2.6" fill="#c99a2c"/><rect x="739.5" y="783.5" width="5.6" height="2.6" fill="#7a2424"/><rect x="739.5" y="786.3" width="5.6" height="2.6" fill="#a8322a"/><rect x="739.5" y="789.1" width="5.6" height="2.6" fill="#1f6b45"/><rect x="739.5" y="791.9" width="5.6" height="2.6" fill="#235d8a"/><rect x="739.5" y="794.7" width="5.6" height="2.6" fill="#c99a2c"/><rect x="739.5" y="797.5" width="5.6" height="2.6" fill="#c98a2a"/><rect x="739.5" y="800.3" width="5.6" height="2.6" fill="#174f3a"/><rect x="745.3" y="785.5" width="5.6" height="2.6" fill="#2d7fa6"/><rect x="745.3" y="788.3" width="5.6" height="2.6" fill="#3a8cb0"/><rect x="745.3" y="791.1" width="5.6" height="2.6" fill="#174f3a"/><rect x="745.3" y="793.9" width="5.6" height="2.6" fill="#2d7fa6"/><rect x="745.3" y="796.7" width="5.6" height="2.6" fill="#1d5e34"/><rect x="745.3" y="799.5" width="5.6" height="2.6" fill="#2d7fa6"/><rect x="745.3" y="802.3" width="5.6" height="2.6" fill="#9c3a26"/><rect x="751.1" y="784.5" width="5.6" height="2.6" fill="#1d5e34"/><rect x="751.1" y="787.3" width="5.6" height="2.6" fill="#9c3a26"/><rect x="751.1" y="790.1" width="5.6" height="2.6" fill="#2d7fa6"/><rect x="751.1" y="792.9" width="5.6" height="2.6" fill="#9c3a26"/><rect x="751.1" y="795.7" width="5.6" height="2.6" fill="#c98a2a"/><rect x="751.1" y="798.5" width="5.6" height="2.6" fill="#7a2424"/><rect x="751.1" y="801.3" width="5.6" height="2.6" fill="#3a8cb0"/><rect x="756.9" y="783.5" width="5.6" height="2.6" fill="#174f3a"/><rect x="756.9" y="786.3" width="5.6" height="2.6" fill="#9c3a26"/><rect x="756.9" y="789.1" width="5.6" height="2.6" fill="#3a8cb0"/><rect x="756.9" y="791.9" width="5.6" height="2.6" fill="#5a2020"/><rect x="756.9" y="794.7" width="5.6" height="2.6" fill="#235d8a"/><rect x="756.9" y="797.5" width="5.6" height="2.6" fill="#5a2020"/><rect x="756.9" y="800.3" width="5.6" height="2.6" fill="#7a2424"/><rect x="762.7" y="785.5" width="5.6" height="2.6" fill="#9c3a26"/><rect x="762.7" y="788.3" width="5.6" height="2.6" fill="#9c3a26"/><rect x="762.7" y="791.1" width="5.6" height="2.6" fill="#a8322a"/><rect x="762.7" y="793.9" width="5.6" height="2.6" fill="#5a2020"/><rect x="762.7" y="796.7" width="5.6" height="2.6" fill="#3a8cb0"/><rect x="762.7" y="799.5" width="5.6" height="2.6" fill="#c98a2a"/><rect x="762.7" y="802.3" width="5.6" height="2.6" fill="#3a8cb0"/><rect x="768.5" y="785.5" width="5.6" height="2.6" fill="#174f3a"/><rect x="768.5" y="788.3" width="5.6" height="2.6" fill="#174f3a"/><rect x="768.5" y="791.1" width="5.6" height="2.6" fill="#a8322a"/><rect x="768.5" y="793.9" width="5.6" height="2.6" fill="#a8322a"/><rect x="768.5" y="796.7" width="5.6" height="2.6" fill="#c99a2c"/><rect x="768.5" y="799.5" width="5.6" height="2.6" fill="#3a8cb0"/><rect x="768.5" y="802.3" width="5.6" height="2.6" fill="#c99a2c"/><rect x="774.3" y="783.5" width="5.6" height="2.6" fill="#7a2424"/><rect x="774.3" y="786.3" width="5.6" height="2.6" fill="#a8322a"/><rect x="774.3" y="789.1" width="5.6" height="2.6" fill="#2d7fa6"/><rect x="774.3" y="791.9" width="5.6" height="2.6" fill="#235d8a"/><rect x="774.3" y="794.7" width="5.6" height="2.6" fill="#1f6b45"/><rect x="774.3" y="797.5" width="5.6" height="2.6" fill="#174f3a"/><rect x="774.3" y="800.3" width="5.6" height="2.6" fill="#2d7fa6"/><rect x="780.1" y="784.5" width="5.6" height="2.6" fill="#a8322a"/><rect x="780.1" y="787.3" width="5.6" height="2.6" fill="#1f6b45"/><rect x="780.1" y="790.1" width="5.6" height="2.6" fill="#9c3a26"/><rect x="780.1" y="792.9" width="5.6" height="2.6" fill="#9c3a26"/><rect x="780.1" y="795.7" width="5.6" height="2.6" fill="#1f6b45"/><rect x="780.1" y="798.5" width="5.6" height="2.6" fill="#2d7fa6"/><rect x="780.1" y="801.3" width="5.6" height="2.6" fill="#5a2020"/><rect x="785.9" y="785.5" width="5.6" height="2.6" fill="#7a2424"/><rect x="785.9" y="788.3" width="5.6" height="2.6" fill="#1d5e34"/><rect x="785.9" y="791.1" width="5.6" height="2.6" fill="#174f3a"/><rect x="785.9" y="793.9" width="5.6" height="2.6" fill="#1d5e34"/><rect x="785.9" y="796.7" width="5.6" height="2.6" fill="#c98a2a"/><rect x="785.9" y="799.5" width="5.6" height="2.6" fill="#1f6b45"/><rect x="785.9" y="802.3" width="5.6" height="2.6" fill="#174f3a"/>
  <path d="M751 770 Q750 762 753 757 Q756 752 752 750 L757 750 Q759 755 756 760 Q754 765 755 770Z" fill="#c8c8c8"/>
  <rect x="742" y="761" width="8.5" height="9" fill="#e8f2f2"/>
  <rect x="742" y="762.5" width="8.5" height="2" fill="#1f9aa0"/>
  <rect x="742" y="766" width="8.5" height="2" fill="#1f9aa0"/>
  <path d="M734 772 H762 V776 H757 V787 H736 V776 H732Z" fill="#e2e4e6"/>
  <rect x="744" y="774" width="17" height="1.2" fill="#555"/>
  <g fill="#666"><rect x="745" y="778" width="2.5" height="1.2"/><rect x="750" y="778" width="2.5" height="1.2"/><rect x="755" y="778" width="2.5" height="1.2"/><rect x="741" y="782" width="2" height="1.2"/><rect x="746" y="783" width="2" height="1.2"/></g>
  <rect x="729.5" y="780" width="9.5" height="28" fill="#d9dbdd"/>
  <rect x="735" y="780" width="4" height="28" fill="#c4c7ca"/>
  <path d="M694.5 810 L740 804 L794 798 L794 806 Q789 816 788 821 L700 818 Q696 814 694.5 810Z" fill="#7d808c"/>
  <path d="M694.5 810 L740 804 L794 798 L794 800.5 L740 806.5 L695.5 812.5Z" fill="#a9acb6"/>
  <path d="M699 817 L789 818.5 L788.5 821.5 L702 820Z" fill="#c9202c"/>
  <circle cx="779" cy="812" r="2.6" fill="#d4a33a"/><circle cx="779" cy="812" r="1.5" fill="#6b6f7a"/>
</svg>
<!-- legend -->
<div class="tri" style="left:9.3px;top:778.3px;width:13.4px;height:10.7px;background:#00b050;clip-path:polygon(50% 0,100% 100%,0 100%)"></div>
<div class="tri" style="left:24px;top:778px;width:14.3px;height:10px;background:#ff0000;clip-path:polygon(0 0,100% 0,50% 100%)"></div>
<div class="a" style="left:46.6px;top:776px;font-size:11.5px;line-height:13px;white-space:nowrap;letter-spacing:.3px;-webkit-text-stroke:.45px #111">All changes are based on year-on-year(y-o-y) comparison</div>

<div class="a" style="left:326.6px;top:804px;font-weight:bold;font-size:11px;line-height:13px">Legend:</div>
<div class="a" style="left:374px;top:804px;width:29.7px;height:14.3px;background:#dba00b;border-radius:3px"></div>
<div class="a" style="left:406.7px;top:804px;font-weight:bold;font-size:10px;line-height:13px">Exports</div>
<div class="a" style="left:459.3px;top:803.5px;width:28.1px;height:14.8px;background:#fff;border:1px solid #d9a21a;border-radius:3px"></div>
<div class="a" style="left:490.4px;top:805px;font-weight:bold;font-size:10px;line-height:13px">Imports</div>

<!-- notes -->
<div class="note" style="left:8.5px;top:824px;letter-spacing:.3px">Notes:</div>
<div class="note" style="left:8.5px;top:836px;font-size:7px">•</div>
<div class="note" style="left:26.5px;top:835.3px;width:640px;text-align:justify;text-align-last:justify;white-space:normal;letter-spacing:.1px">Export and import activities that are taking place in the Supra area (including production activities beyond the centre of predominant</div>
<div class="note" style="left:26.5px;top:847.2px;letter-spacing:.38px">economic interest for any state) or declarations made by the agent are not included in this infographic.</div>
<div class="note" style="left:8.5px;top:858.7px;font-size:7px">•</div>
<div class="note" style="left:26.5px;top:858.2px;letter-spacing:.24px">Exports and imports value for the Federal Territory of Kuala Lumpur includes the Federal Territory of Putrajaya.</div>
<div class="note" style="left:360px;top:882px;letter-spacing:.17px">Source: Export Import Statistics by State August 2025, Department of Statistics Malaysia (DOSM)</div>

<!-- footer -->
<svg class="a" style="left:0;top:895px" width="794" height="88" viewBox="0 895 794 88">
  <rect x="0" y="898.7" width="794" height="85" fill="#fff"/>
  <path d="M0 897.5 C149 895.3 319.5 919.7 397 983 L0 983Z" fill="#8e1b1f"/>
  <path d="M0 897.7 C203.2 896.6 326.2 940.5 384 983 L0 983Z" fill="#f6b82e"/>
  <path d="M0 897.8 C103.5 891.7 311.9 929.7 369 983 L0 983Z" fill="#2e3a87"/>
  <path d="M0 897.9 C201.3 895.4 325.8 955 350.6 983 L0 983Z" fill="#118699"/>
</svg>
<svg style="position:absolute;left:6.8px;top:922.4px" width="57.6" height="53" viewBox="0 0 57.6 53"><rect width="57.6" height="53" fill="#fff"/><path fill="#111" d="M0 0H16.43V2.42H0ZM18.43 0H30.25V2.42H18.43ZM32.26 0H37.16V2.42H32.26ZM41.47 0H57.6V2.42H41.47ZM0 2.12H2.6V4.54H0ZM13.82 2.12H16.43V4.54H13.82ZM18.43 2.12H25.64V4.54H18.43ZM27.65 2.12H32.56V4.54H27.65ZM34.56 2.12H39.47V4.54H34.56ZM41.47 2.12H44.08V4.54H41.47ZM55.3 2.12H57.6V4.54H55.3ZM0 4.24H2.6V6.66H0ZM4.61 4.24H11.82V6.66H4.61ZM13.82 4.24H16.43V6.66H13.82ZM25.34 4.24H27.95V6.66H25.34ZM34.56 4.24H37.16V6.66H34.56ZM41.47 4.24H44.08V6.66H41.47ZM46.08 4.24H53.29V6.66H46.08ZM55.3 4.24H57.6V6.66H55.3ZM0 6.36H2.6V8.78H0ZM4.61 6.36H11.82V8.78H4.61ZM13.82 6.36H16.43V8.78H13.82ZM20.74 6.36H27.95V8.78H20.74ZM29.95 6.36H34.86V8.78H29.95ZM41.47 6.36H44.08V8.78H41.47ZM46.08 6.36H53.29V8.78H46.08ZM55.3 6.36H57.6V8.78H55.3ZM0 8.48H2.6V10.9H0ZM4.61 8.48H11.82V10.9H4.61ZM13.82 8.48H16.43V10.9H13.82ZM18.43 8.48H21.04V10.9H18.43ZM34.56 8.48H37.16V10.9H34.56ZM41.47 8.48H44.08V10.9H41.47ZM46.08 8.48H53.29V10.9H46.08ZM55.3 8.48H57.6V10.9H55.3ZM0 10.6H2.6V13.02H0ZM13.82 10.6H16.43V13.02H13.82ZM18.43 10.6H23.34V13.02H18.43ZM27.65 10.6H39.47V13.02H27.65ZM41.47 10.6H44.08V13.02H41.47ZM55.3 10.6H57.6V13.02H55.3ZM0 12.72H16.43V15.14H0ZM27.65 12.72H34.86V15.14H27.65ZM41.47 12.72H57.6V15.14H41.47ZM23.04 14.84H25.64V17.26H23.04ZM32.26 14.84H39.47V17.26H32.26ZM0 16.96H2.6V19.38H0ZM11.52 16.96H16.43V19.38H11.52ZM18.43 16.96H21.04V19.38H18.43ZM25.34 16.96H30.25V19.38H25.34ZM34.56 16.96H41.77V19.38H34.56ZM46.08 16.96H48.68V19.38H46.08ZM55.3 16.96H57.6V19.38H55.3ZM2.3 19.08H7.21V21.5H2.3ZM16.13 19.08H18.73V21.5H16.13ZM39.17 19.08H41.77V21.5H39.17ZM43.78 19.08H48.68V21.5H43.78ZM52.99 19.08H55.6V21.5H52.99ZM6.91 21.2H16.43V23.62H6.91ZM41.47 21.2H46.38V23.62H41.47ZM0 23.32H2.6V25.74H0ZM11.52 23.32H14.12V25.74H11.52ZM16.13 23.32H18.73V25.74H16.13ZM39.17 23.32H50.99V25.74H39.17ZM0 25.44H2.6V27.86H0ZM6.91 25.44H9.52V27.86H6.91ZM13.82 25.44H16.43V27.86H13.82ZM39.17 25.44H41.77V27.86H39.17ZM43.78 25.44H46.38V27.86H43.78ZM48.38 25.44H55.6V27.86H48.38ZM2.3 27.56H4.91V29.98H2.3ZM11.52 27.56H18.73V29.98H11.52ZM43.78 27.56H48.68V29.98H43.78ZM50.69 27.56H55.6V29.98H50.69ZM4.61 29.68H7.21V32.1H4.61ZM9.22 29.68H11.82V32.1H9.22ZM13.82 29.68H18.73V32.1H13.82ZM39.17 29.68H46.38V32.1H39.17ZM48.38 29.68H50.99V32.1H48.38ZM52.99 29.68H57.6V32.1H52.99ZM0 31.8H7.21V34.22H0ZM11.52 31.8H16.43V34.22H11.52ZM39.17 31.8H41.77V34.22H39.17ZM48.38 31.8H57.6V34.22H48.38ZM0 33.92H2.6V36.34H0ZM4.61 33.92H11.82V36.34H4.61ZM18.43 33.92H34.86V36.34H18.43ZM41.47 33.92H44.08V36.34H41.47ZM46.08 33.92H57.6V36.34H46.08ZM18.43 36.04H25.64V38.46H18.43ZM39.17 36.04H44.08V38.46H39.17ZM46.08 36.04H48.68V38.46H46.08ZM52.99 36.04H55.6V38.46H52.99ZM0 38.16H16.43V40.58H0ZM32.26 38.16H44.08V40.58H32.26ZM55.3 38.16H57.6V40.58H55.3ZM0 40.28H2.6V42.7H0ZM13.82 40.28H16.43V42.7H13.82ZM18.43 40.28H25.64V42.7H18.43ZM27.65 40.28H30.25V42.7H27.65ZM34.56 40.28H41.77V42.7H34.56ZM50.69 40.28H57.6V42.7H50.69ZM0 42.4H2.6V44.82H0ZM4.61 42.4H11.82V44.82H4.61ZM13.82 42.4H16.43V44.82H13.82ZM20.74 42.4H23.34V44.82H20.74ZM25.34 42.4H32.56V44.82H25.34ZM34.56 42.4H37.16V44.82H34.56ZM41.47 42.4H46.38V44.82H41.47ZM50.69 42.4H57.6V44.82H50.69ZM0 44.52H2.6V46.94H0ZM4.61 44.52H11.82V46.94H4.61ZM13.82 44.52H16.43V46.94H13.82ZM25.34 44.52H27.95V46.94H25.34ZM29.95 44.52H50.99V46.94H29.95ZM52.99 44.52H55.6V46.94H52.99ZM0 46.64H2.6V49.06H0ZM4.61 46.64H11.82V49.06H4.61ZM13.82 46.64H16.43V49.06H13.82ZM23.04 46.64H34.86V49.06H23.04ZM36.86 46.64H39.47V49.06H36.86ZM41.47 46.64H46.38V49.06H41.47ZM48.38 46.64H53.29V49.06H48.38ZM0 48.76H2.6V51.18H0ZM13.82 48.76H16.43V51.18H13.82ZM18.43 48.76H21.04V51.18H18.43ZM25.34 48.76H30.25V51.18H25.34ZM32.26 48.76H41.77V51.18H32.26ZM46.08 48.76H48.68V51.18H46.08ZM50.69 48.76H53.29V51.18H50.69ZM55.3 48.76H57.6V51.18H55.3ZM0 50.88H16.43V53H0ZM18.43 50.88H37.16V53H18.43ZM43.78 50.88H48.68V53H43.78ZM50.69 50.88H57.6V53H50.69Z"/><rect x="19" y="18" width="20" height="17" fill="#fff"/><use href="#coa" transform="translate(19.3,18.8) scale(.27,.24)"/></svg>

<!-- social icons -->
<svg class="a" style="left:76px;top:931px" width="165" height="26" viewBox="76 931 165 26">
  <g fill="none" stroke="#d8eef2" stroke-width="1">
    <rect x="78.5" y="933.5" width="22.4" height="20.4" rx="2"/>
    <rect x="105.7" y="933.5" width="22.4" height="20.4" rx="2"/>
    <rect x="132.9" y="933.5" width="22.4" height="20.4" rx="2"/>
    <rect x="159.2" y="933.5" width="22.4" height="20.4" rx="2"/>
    <rect x="186" y="933.5" width="22.4" height="20.4" rx="2"/>
    <rect x="213.8" y="933.5" width="22.4" height="20.4" rx="2"/>
  </g>
  <!-- instagram -->
  <rect x="83.5" y="937.5" width="12.5" height="12.5" rx="3.5" fill="none" stroke="#fff" stroke-width="1.6"/>
  <circle cx="89.75" cy="943.75" r="3" fill="none" stroke="#fff" stroke-width="1.6"/>
  <circle cx="93.3" cy="940.2" r="0.8" fill="#fff"/>
  <!-- facebook -->
  <path d="M115.5 951.5 V944.5 H113.5 V941.8 H115.5 V939.8 Q115.5 936.6 118.6 936.6 H120.6 V939.2 H119.2 Q118.3 939.2 118.3 940.2 V941.8 H120.6 L120.2 944.5 H118.3 V951.5Z" fill="#fff"/>
  <!-- X -->
  <path d="M137.5 937 H141.5 L151 950.5 H147 Z" fill="none" stroke="#fff" stroke-width="1.1"/>
  <path d="M150.5 937 L138 950.5" stroke="#fff" stroke-width="1.2"/>
  <!-- youtube -->
  <polygon points="166.5,938 176,943.7 166.5,949.4" fill="#fff"/>
  <!-- tiktok -->
  <path d="M198.5 937 V947 A3.2 3.2 0 1 1 195.3 943.8" fill="none" stroke="#fff" stroke-width="2.2"/>
  <path d="M198.5 937.5 Q199.5 941 203 941.2" fill="none" stroke="#fff" stroke-width="2"/>
  <!-- linkedin -->
  <rect x="217.5" y="941.5" width="2.9" height="9.8" fill="#fff"/>
  <circle cx="218.95" cy="938.4" r="1.8" fill="#fff"/>
  <path d="M222.8 941.5 H225.6 V942.9 Q226.8 941.2 229 941.2 Q232.5 941.2 232.5 945.5 V951.3 H229.6 V946 Q229.6 943.7 227.8 943.7 Q225.7 943.7 225.7 946.2 V951.3 H222.8Z" fill="#fff"/>
</svg>
<div class="a" style="left:78.3px;top:958px;font-size:15px;line-height:16px;color:#fff;letter-spacing:3.4px;white-space:nowrap"><b>@Stats</b>Malaysia</div>

<svg class="a" style="left:360px;top:925px" width="130" height="50" viewBox="360 925 130 50">
<polygon points="385.08,958.11 384.59,958.73 384,959.31 383.31,959.83 382.54,960.29 381.68,960.67 380.74,960.95 379.74,961.13 378.68,961.21 377.58,961.16 376.45,960.99 375.31,960.69 374.16,960.26 373.02,959.69 371.91,958.98 370.85,958.13 369.84,957.15 368.91,956.04 368.07,954.81 367.33,953.46 366.72,952 366.23,950.45 365.89,948.81 365.7,947.1 365.68,945.33 365.68,945.33 367.03,947.45 368.23,949.22 369.46,950.73 370.74,952 372.02,953.05 373.3,953.89 374.53,954.54 375.7,955.02 376.8,955.36 377.81,955.57 378.71,955.7 379.52,955.76 380.22,955.78 380.83,955.78 381.35,955.78 381.8,955.81 382.2,955.86 382.56,955.97 382.9,956.12 383.24,956.33 383.6,956.6 384,956.93 384.47,957.36 385.08,958.11" fill="#e3262b"/>
<polygon points="383.74,959.5 383.18,959.85 382.57,960.17 381.92,960.43 381.22,960.65 380.48,960.8 379.71,960.89 378.91,960.92 378.09,960.88 377.25,960.76 376.4,960.57 375.54,960.3 374.69,959.96 373.84,959.53 373.01,959.02 372.2,958.44 371.43,957.77 370.69,957.03 370,956.21 369.35,955.33 368.77,954.37 368.24,953.34 367.79,952.26 367.42,951.12 367.13,949.93 367.13,949.93 367.62,951.13 368.13,952.25 368.71,953.3 369.33,954.28 370.01,955.18 370.72,956 371.47,956.74 372.24,957.4 373.03,957.99 373.83,958.5 374.64,958.94 375.45,959.31 376.25,959.61 377.04,959.84 377.82,960.02 378.58,960.14 379.32,960.2 380.04,960.21 380.73,960.18 381.39,960.1 382.03,959.98 382.63,959.83 383.2,959.66 383.74,959.5" fill="#fff"/>
<polygon points="380.44,957.08 379.66,957.17 378.83,957.17 377.98,957.05 377.11,956.83 376.23,956.49 375.37,956.03 374.53,955.45 373.73,954.75 372.98,953.94 372.3,953.02 371.7,952 371.2,950.88 370.8,949.67 370.52,948.39 370.36,947.04 370.34,945.63 370.47,944.19 370.75,942.72 371.18,941.25 371.78,939.78 372.53,938.34 373.45,936.93 374.53,935.59 375.76,934.33 375.76,934.33 375.21,936.78 374.81,938.88 374.62,940.82 374.62,942.62 374.79,944.27 375.1,945.77 375.51,947.1 376,948.27 376.54,949.28 377.09,950.15 377.65,950.88 378.17,951.49 378.66,952 379.09,952.43 379.45,952.8 379.76,953.14 379.99,953.46 380.18,953.78 380.31,954.13 380.4,954.52 380.46,954.97 380.51,955.49 380.54,956.12 380.44,957.08" fill="#e3262b"/>
<polygon points="378.51,957.11 377.87,956.97 377.21,956.77 376.56,956.49 375.92,956.15 375.29,955.74 374.68,955.26 374.09,954.71 373.54,954.1 373.03,953.42 372.56,952.68 372.15,951.89 371.79,951.04 371.49,950.14 371.26,949.2 371.11,948.21 371.03,947.19 371.03,946.15 371.12,945.08 371.29,943.99 371.55,942.9 371.91,941.81 372.36,940.72 372.9,939.65 373.53,938.6 373.53,938.6 373.03,939.8 372.6,940.96 372.26,942.11 372.02,943.24 371.86,944.35 371.78,945.44 371.79,946.49 371.86,947.5 372.01,948.48 372.21,949.4 372.47,950.29 372.78,951.12 373.14,951.9 373.53,952.62 373.96,953.3 374.42,953.92 374.89,954.49 375.39,955.01 375.91,955.47 376.43,955.89 376.96,956.25 377.49,956.57 378.02,956.85 378.51,957.11" fill="#fff"/>
<polygon points="377.89,953.08 377.27,952.59 376.69,952 376.17,951.31 375.71,950.54 375.33,949.68 375.05,948.74 374.87,947.74 374.79,946.68 374.84,945.58 375.01,944.45 375.31,943.31 375.74,942.16 376.31,941.02 377.02,939.91 377.87,938.85 378.85,937.84 379.96,936.91 381.19,936.07 382.54,935.33 384,934.72 385.55,934.23 387.19,933.89 388.9,933.7 390.67,933.68 390.67,933.68 388.55,935.03 386.78,936.23 385.27,937.46 384,938.74 382.95,940.02 382.11,941.3 381.46,942.53 380.98,943.7 380.64,944.8 380.43,945.81 380.3,946.71 380.24,947.52 380.22,948.22 380.22,948.83 380.22,949.35 380.19,949.8 380.14,950.2 380.03,950.56 379.88,950.9 379.67,951.24 379.4,951.6 379.07,952 378.64,952.47 377.89,953.08" fill="#d81f26"/>
<polygon points="376.5,951.74 376.15,951.18 375.83,950.57 375.57,949.92 375.35,949.22 375.2,948.48 375.11,947.71 375.08,946.91 375.12,946.09 375.24,945.25 375.43,944.4 375.7,943.54 376.04,942.69 376.47,941.84 376.98,941.01 377.56,940.2 378.23,939.43 378.97,938.69 379.79,938 380.67,937.35 381.63,936.77 382.66,936.24 383.74,935.79 384.88,935.42 386.07,935.13 386.07,935.13 384.87,935.62 383.75,936.13 382.7,936.71 381.72,937.33 380.82,938.01 380,938.72 379.26,939.47 378.6,940.24 378.01,941.03 377.5,941.83 377.06,942.64 376.69,943.45 376.39,944.25 376.16,945.04 375.98,945.82 375.86,946.58 375.8,947.32 375.79,948.04 375.82,948.73 375.9,949.39 376.02,950.03 376.17,950.63 376.34,951.2 376.5,951.74" fill="#fff"/>
<polygon points="378.92,948.44 378.83,947.66 378.83,946.83 378.95,945.98 379.17,945.11 379.51,944.23 379.97,943.37 380.55,942.53 381.25,941.73 382.06,940.98 382.98,940.3 384,939.7 385.12,939.2 386.33,938.8 387.61,938.52 388.96,938.36 390.37,938.34 391.81,938.47 393.28,938.75 394.75,939.18 396.22,939.78 397.66,940.53 399.07,941.45 400.41,942.53 401.67,943.76 401.67,943.76 399.22,943.21 397.12,942.81 395.18,942.62 393.38,942.62 391.73,942.79 390.23,943.1 388.9,943.51 387.73,944 386.72,944.54 385.85,945.09 385.12,945.65 384.51,946.17 384,946.66 383.57,947.09 383.2,947.45 382.86,947.76 382.54,947.99 382.22,948.18 381.87,948.31 381.48,948.4 381.03,948.46 380.51,948.51 379.88,948.54 378.92,948.44" fill="#e3262b"/>
<polygon points="378.89,946.51 379.03,945.87 379.23,945.21 379.51,944.56 379.85,943.92 380.26,943.29 380.74,942.68 381.29,942.09 381.9,941.54 382.58,941.03 383.32,940.56 384.11,940.15 384.96,939.79 385.86,939.49 386.8,939.26 387.79,939.11 388.81,939.03 389.85,939.03 390.92,939.12 392.01,939.29 393.1,939.55 394.19,939.91 395.28,940.36 396.35,940.9 397.4,941.53 397.4,941.53 396.2,941.03 395.04,940.6 393.89,940.26 392.76,940.02 391.65,939.86 390.56,939.78 389.51,939.79 388.5,939.86 387.52,940.01 386.6,940.21 385.71,940.47 384.88,940.78 384.1,941.14 383.38,941.53 382.7,941.96 382.08,942.42 381.51,942.89 380.99,943.39 380.53,943.91 380.11,944.43 379.75,944.96 379.43,945.49 379.15,946.02 378.89,946.51" fill="#fff"/>
<polygon points="382.92,945.89 383.41,945.29 384,944.73 384.68,944.23 385.45,943.79 386.29,943.44 387.21,943.17 388.2,943 389.23,942.94 390.31,942.99 391.41,943.16 392.53,943.47 393.65,943.9 394.76,944.47 395.84,945.17 396.87,946 397.84,946.96 398.75,948.05 399.56,949.26 400.27,950.58 400.87,952 401.33,953.52 401.66,955.11 401.84,956.78 401.85,958.5 401.85,958.5 400.51,956.42 399.32,954.7 398.1,953.23 396.85,952 395.58,950.99 394.34,950.18 393.13,949.55 391.98,949.09 390.91,948.78 389.94,948.57 389.06,948.45 388.29,948.4 387.62,948.38 387.04,948.38 386.54,948.37 386.11,948.34 385.74,948.27 385.4,948.15 385.08,947.98 384.75,947.75 384.4,947.46 384,947.11 383.53,946.66 382.92,945.89" fill="#283a93"/>
<polygon points="384.59,943.52 385.19,943.25 385.83,943.02 386.5,942.83 387.2,942.7 387.93,942.62 388.69,942.6 389.46,942.64 390.24,942.74 391.04,942.91 391.84,943.14 392.64,943.43 393.43,943.8 394.22,944.23 394.98,944.73 395.72,945.3 396.43,945.94 397.11,946.64 397.75,947.4 398.34,948.22 398.89,949.11 399.38,950.04 399.8,951.03 400.17,952.07 400.46,953.15 400.46,953.15 399.77,952.07 399.13,951.07 398.46,950.16 397.76,949.33 397.04,948.57 396.31,947.88 395.57,947.27 394.83,946.72 394.09,946.23 393.36,945.81 392.63,945.43 391.92,945.11 391.23,944.83 390.55,944.59 389.89,944.39 389.25,944.22 388.62,944.08 388.01,943.96 387.41,943.86 386.83,943.79 386.25,943.73 385.69,943.68 385.14,943.64 384.59,943.52" fill="#f6c22a"/>
<polygon points="387.56,946.92 388.33,946.84 389.14,946.86 389.98,946.99 390.83,947.22 391.68,947.57 392.52,948.03 393.33,948.6 394.11,949.29 394.83,950.09 395.49,950.99 396.07,952 396.55,953.1 396.93,954.28 397.2,955.54 397.34,956.86 397.35,958.23 397.22,959.63 396.94,961.06 396.51,962.5 395.93,963.93 395.18,965.33 394.29,966.69 393.23,967.99 392.03,969.22 392.03,969.22 392.55,966.8 392.92,964.75 393.1,962.84 393.08,961.08 392.91,959.47 392.6,958.02 392.18,956.73 391.7,955.59 391.17,954.61 390.62,953.78 390.09,953.07 389.58,952.49 389.11,952 388.71,951.59 388.36,951.23 388.08,950.91 387.87,950.59 387.71,950.27 387.6,949.92 387.53,949.53 387.49,949.07 387.46,948.54 387.45,947.89 387.56,946.92" fill="#283a93"/>
<polygon points="390.42,946.42 391.03,946.65 391.64,946.94 392.25,947.29 392.84,947.69 393.41,948.15 393.96,948.67 394.48,949.24 394.96,949.87 395.41,950.55 395.81,951.28 396.17,952.05 396.47,952.87 396.72,953.73 396.9,954.63 397.02,955.55 397.08,956.5 397.06,957.48 396.98,958.47 396.81,959.47 396.57,960.48 396.26,961.49 395.86,962.49 395.38,963.48 394.82,964.45 394.82,964.45 395.11,963.2 395.35,962.04 395.52,960.92 395.62,959.84 395.65,958.8 395.62,957.79 395.53,956.84 395.39,955.92 395.21,955.06 395,954.24 394.75,953.46 394.47,952.73 394.18,952.04 393.87,951.4 393.55,950.79 393.21,950.21 392.87,949.66 392.52,949.15 392.17,948.66 391.81,948.19 391.44,947.75 391.08,947.31 390.72,946.89 390.42,946.42" fill="#f6c22a"/>
<polygon points="390.11,950.92 390.71,951.41 391.27,952 391.77,952.68 392.21,953.45 392.56,954.29 392.83,955.21 393,956.2 393.06,957.23 393.01,958.31 392.84,959.41 392.53,960.53 392.1,961.65 391.53,962.76 390.83,963.84 390,964.87 389.04,965.84 387.95,966.75 386.74,967.56 385.42,968.27 384,968.87 382.48,969.33 380.89,969.66 379.22,969.84 377.5,969.85 377.5,969.85 379.58,968.51 381.3,967.32 382.77,966.1 384,964.85 385.01,963.58 385.82,962.34 386.45,961.13 386.91,959.98 387.22,958.91 387.43,957.94 387.55,957.06 387.6,956.29 387.62,955.62 387.62,955.04 387.63,954.54 387.66,954.11 387.73,953.74 387.85,953.4 388.02,953.08 388.25,952.75 388.54,952.4 388.89,952 389.34,951.53 390.11,950.92" fill="#283a93"/>
<polygon points="392.48,952.59 392.75,953.19 392.98,953.83 393.17,954.5 393.3,955.2 393.38,955.93 393.4,956.69 393.36,957.46 393.26,958.24 393.09,959.04 392.86,959.84 392.57,960.64 392.2,961.43 391.77,962.22 391.27,962.98 390.7,963.72 390.06,964.43 389.36,965.11 388.6,965.75 387.78,966.34 386.89,966.89 385.96,967.38 384.97,967.8 383.93,968.17 382.85,968.46 382.85,968.46 383.93,967.77 384.93,967.13 385.84,966.46 386.67,965.76 387.43,965.04 388.12,964.31 388.73,963.57 389.28,962.83 389.77,962.09 390.19,961.36 390.57,960.63 390.89,959.92 391.17,959.23 391.41,958.55 391.61,957.89 391.78,957.25 391.92,956.62 392.04,956.01 392.14,955.41 392.21,954.83 392.27,954.25 392.32,953.69 392.36,953.14 392.48,952.59" fill="#f6c22a"/>
<polygon points="389.08,955.56 389.16,956.33 389.14,957.14 389.01,957.98 388.78,958.83 388.43,959.68 387.97,960.52 387.4,961.33 386.71,962.11 385.91,962.83 385.01,963.49 384,964.07 382.9,964.55 381.72,964.93 380.46,965.2 379.14,965.34 377.77,965.35 376.37,965.22 374.94,964.94 373.5,964.51 372.07,963.93 370.67,963.18 369.31,962.29 368.01,961.23 366.78,960.03 366.78,960.03 369.2,960.55 371.25,960.92 373.16,961.1 374.92,961.08 376.53,960.91 377.98,960.6 379.27,960.18 380.41,959.7 381.39,959.17 382.22,958.62 382.93,958.09 383.51,957.58 384,957.11 384.41,956.71 384.77,956.36 385.09,956.08 385.41,955.87 385.73,955.71 386.08,955.6 386.47,955.53 386.93,955.49 387.46,955.46 388.11,955.45 389.08,955.56" fill="#283a93"/>
<polygon points="389.58,958.42 389.35,959.03 389.06,959.64 388.71,960.25 388.31,960.84 387.85,961.41 387.33,961.96 386.76,962.48 386.13,962.96 385.45,963.41 384.72,963.81 383.95,964.17 383.13,964.47 382.27,964.72 381.37,964.9 380.45,965.02 379.5,965.08 378.52,965.06 377.53,964.98 376.53,964.81 375.52,964.57 374.51,964.26 373.51,963.86 372.52,963.38 371.55,962.82 371.55,962.82 372.8,963.11 373.96,963.35 375.08,963.52 376.16,963.62 377.2,963.65 378.21,963.62 379.16,963.53 380.08,963.39 380.94,963.21 381.76,963 382.54,962.75 383.27,962.47 383.96,962.18 384.6,961.87 385.21,961.55 385.79,961.21 386.34,960.87 386.85,960.52 387.34,960.17 387.81,959.81 388.25,959.44 388.69,959.08 389.11,958.72 389.58,958.42" fill="#f6c22a"/>
<circle cx="384" cy="952" r="5.6" fill="#fff"/>
<circle cx="384" cy="952" r="4.8" fill="#e3262b"/>
<path d="M381.5 949 H386.5 L385.5 951.5 L387 954.5 H381 L382.5 951.5Z" fill="#f6c22a"/>
<rect x="393.5" y="931.5" width="1.2" height="1.2" fill="#e3262b"/>
<rect x="397.5" y="931.5" width="1.2" height="1.2" fill="#e3262b"/>
<rect x="401.5" y="931.5" width="1.2" height="1.2" fill="#e3262b"/>
<rect x="395" y="934.5" width="1.2" height="1.2" fill="#e3262b"/>
<rect x="399" y="934" width="1.2" height="1.2" fill="#e3262b"/>
<rect x="402" y="933" width="1.2" height="1.2" fill="#e3262b"/>
<text x="408.5" y="955.5" font-family="Liberation Sans" font-weight="bold" font-size="24" fill="#283a93" stroke="#283a93" stroke-width=".9" textLength="76.5" lengthAdjust="spacingAndGlyphs" transform="translate(0,-28.67) scale(1,1.03)">ASEAN</text>
<text x="409" y="964.8" font-family="Liberation Sans" font-weight="bold" font-size="9.3" fill="#283a93" stroke="#283a93" stroke-width=".35" textLength="76" lengthAdjust="spacingAndGlyphs">MALAYSIA 2025</text>
<text x="409" y="969.8" font-family="Liberation Sans" font-weight="bold" font-size="3.6" fill="#283a93" textLength="74" lengthAdjust="spacingAndGlyphs">INCLUSIVITY AND SUSTAINABILITY</text>
</svg>
<svg class="a" style="left:495px;top:925px" width="115" height="55" viewBox="495 925 115 55">
<path d="M498.6 941.5 L503.3 940 V952 H498.6 Z" fill="#1e2a78"/>
<path d="M499.4 942.7 L502.5 941.2 V950 H499.4 Z" fill="#fff"/>
<path d="M499.4 942.7 L501.19 942.13 V950 H499.4 Z" fill="#e22830"/>
<path d="M503.3 936 L508.2 934.5 V952 H503.3 Z" fill="#1e2a78"/>
<path d="M504.1 937.2 L507.4 935.7 V950 H504.1 Z" fill="#fff"/>
<path d="M504.1 937.2 L505.96 936.63 V950 H504.1 Z" fill="#e22830"/>
<path d="M508.2 932 L513.2 930.5 V952 H508.2 Z" fill="#1e2a78"/>
<path d="M509 933.2 L512.4 931.7 V950 H509 Z" fill="#fff"/>
<path d="M509 933.2 L510.9 932.63 V950 H509 Z" fill="#e22830"/>
<path d="M513.2 936.5 L517.8 935.2 V952 H513.2 Z" fill="#1e2a78"/>
<path d="M514 937.7 L517 936.4 V950 H514 Z" fill="#fff"/>
<path d="M514 937.7 L515.75 937.21 V950 H514 Z" fill="#e22830"/>
<path d="M517.8 943 L522.2 941.5 V952 H517.8 Z" fill="#1e2a78"/>
<path d="M518.6 944.2 L521.4 942.7 V950 H518.6 Z" fill="#fff"/>
<path d="M518.6 944.2 L520.27 943.63 V950 H518.6 Z" fill="#e22830"/>
<path d="M498.6 950 H522.2 V955 A11.8 11.8 0 0 1 498.6 955Z" fill="#1e2a78"/>
<path d="M511.83 949.96 A7.6 7.6 0 1 0 511.83 962.84 A6.6 6.6 0 1 1 511.83 949.96 Z" fill="#f6c21c"/>
<polygon points="513.8,950.5 514.6,952.39 516.14,951.03 516.04,953.09 518.02,952.53 517.04,954.34 519.06,954.7 517.4,955.9 519.06,957.1 517.04,957.46 518.02,959.27 516.04,958.71 516.14,960.77 514.6,959.41 513.8,961.3 513,959.41 511.46,960.77 511.56,958.71 509.58,959.27 510.56,957.46 508.54,957.1 510.2,955.9 508.54,954.7 510.56,954.34 509.58,952.53 511.56,953.09 511.46,951.03 513,952.39" fill="#f6c21c"/>
<circle cx="513.8" cy="955.9" r="3.4" fill="#f9c81c"/>
<text x="528" y="946.4" font-family="Liberation Sans" font-weight="bold" font-size="12.4" fill="#1e2a78" stroke="#1e2a78" stroke-width=".5" textLength="77.5" lengthAdjust="spacingAndGlyphs">MALAYSIA</text>
<text x="528" y="960" font-family="Liberation Sans" font-weight="bold" font-size="16" fill="#1e2a78" stroke="#1e2a78" stroke-width=".6" textLength="77.5" lengthAdjust="spacingAndGlyphs">MADANI</text>
<text x="531.5" y="972.5" font-family="Liberation Serif" font-style="italic" font-size="11" fill="#1e2a78" textLength="71.5" lengthAdjust="spacingAndGlyphs">ke<tspan fill="#e22830">m</tspan>ampanan</text>
</svg>
<svg class="a" style="left:614px;top:925px" width="70" height="50" viewBox="614 925 70 50">
<ellipse cx="627" cy="938.3" rx="8" ry="7" fill="#fff" stroke="#2ea9e6" stroke-width="2"/>
<circle cx="627" cy="938.3" r="5" fill="#3f6f9e"/><path d="M624 936 Q626 934 628 936 Q627 939 625 939Z" fill="#6aa04a"/><path d="M628.5 939 Q631 938 631 941 Q629 942 628 941Z" fill="#6aa04a"/>
<path d="M637.7 931.3 H644 Q652.8 931.3 652.8 938.3 Q652.8 945.3 644 945.3 H637.7Z" fill="none" stroke="#2ea9e6" stroke-width="2.3"/>
<rect x="641" y="934.5" width="0.1" height="0.1" fill="#fff"/>
<rect x="655.4" y="931" width="4.9" height="15" fill="#2ea9e6"/>
<path d="M662 946 V931 H666 L673.5 941 V931 H677.5 V946 H673.5 L666 936 V946Z" fill="#2ea9e6"/>
<rect x="660.5" y="936.6" width="17.5" height="3.2" fill="#fff" opacity=".85"/>
<text x="661" y="939.4" font-family="Liberation Sans" font-weight="bold" font-size="3" fill="#1e3a7a" textLength="16.5" lengthAdjust="spacingAndGlyphs">2024-2025</text>
<text x="619.7" y="950.6" font-family="Liberation Sans" font-weight="bold" font-size="4.3" fill="#1a4f8c" textLength="57.8" lengthAdjust="spacingAndGlyphs">OPEN DATA INVENTORY</text>
<text x="619.7" y="959" font-family="Liberation Sans" font-weight="bold" font-size="10.4" fill="#0f5a9a" textLength="57.8" lengthAdjust="spacingAndGlyphs">MALAYSIA</text>
<text x="619.7" y="965.1" font-family="Liberation Sans" font-weight="bold" font-size="7.3" fill="#d3a445" textLength="59" lengthAdjust="spacingAndGlyphs">NUMBER ONE</text>
<text x="625.5" y="970.9" font-family="Liberation Sans" font-weight="bold" font-size="6.2" fill="#1565a8" textLength="45.8" lengthAdjust="spacingAndGlyphs">IN THE WORLD</text>
</svg>
<svg class="a" style="left:688px;top:918px" width="50" height="60" viewBox="688 918 50 60">
<path d="M716.51 932.01 A13.9 13.9 0 0 1 727.99 946.19" fill="none" stroke="#e8262b" stroke-width="3.4"/>
<path d="M727.99 946.19 A13.9 13.9 0 0 1 714.1 959.6" fill="none" stroke="#f2e51e" stroke-width="3.4"/>
<path d="M714.1 959.6 A13.9 13.9 0 0 1 700.67 949.3" fill="none" stroke="#1f4fa8" stroke-width="3.4"/>
<path d="M716 930.5 A16 16 0 0 1 731 954 A16 16 0 0 1 706 961 A16 16 0 0 1 696 948" fill="none" stroke="#2a4a9a" stroke-width=".8" stroke-dasharray="1 .7"/>
<polygon points="692.5,935 697,931.5 704.5,941 703,948" fill="#2a9d9a"/>
<polygon points="706,922.8 710.5,923.5 705,947.5 700.5,946.5" fill="#6cc3bd"/>
<polygon points="703.2,936 708,936.5 705,947.5 700.5,946.5" fill="#2a9d9a"/>
<polygon points="709.5,934 714,934.5 711.5,949 707,948.5" fill="#5cbab4"/>
<polygon points="715,940 719,940.5 717.5,950.5 713.5,950" fill="#3aaba4"/>
<text x="698" y="971.8" font-family="Liberation Sans" font-weight="bold" font-size="6.4" fill="#222" textLength="33.5" lengthAdjust="spacingAndGlyphs">20 October</text>
</svg>
<svg class="a" style="left:738px;top:916px" width="56" height="62" viewBox="738 916 56 62">
<g transform="translate(766.6,943.2) scale(1,.895) translate(-766.6,-943.2)">
<path d="M767.47 920.52 A22.7 22.7 0 0 1 773.98 921.73 L770.14 931.74 A12 12 0 0 0 767.44 931.23 Z" fill="#E5243B"/>
<path d="M775.61 922.36 A22.7 22.7 0 0 1 781.24 925.85 L774.05 933.79 A12 12 0 0 0 771.7 932.34 Z" fill="#DDA63A"/>
<path d="M782.53 927.02 A22.7 22.7 0 0 1 786.52 932.31 L776.94 937.11 A12 12 0 0 0 775.28 934.92 Z" fill="#4C9F38"/>
<path d="M787.29 933.87 A22.7 22.7 0 0 1 789.11 940.24 L778.44 941.26 A12 12 0 0 0 777.69 938.61 Z" fill="#C5192D"/>
<path d="M789.27 941.97 A22.7 22.7 0 0 1 788.66 948.57 L778.34 945.67 A12 12 0 0 0 778.6 942.93 Z" fill="#FF3A21"/>
<path d="M788.18 950.25 A22.7 22.7 0 0 1 785.23 956.17 L776.66 949.75 A12 12 0 0 0 777.88 947.28 Z" fill="#26BDE2"/>
<path d="M784.18 957.57 A22.7 22.7 0 0 1 779.28 962.03 L773.61 952.94 A12 12 0 0 0 775.65 951.08 Z" fill="#FCC30B"/>
<path d="M777.8 962.94 A22.7 22.7 0 0 1 771.62 965.34 L769.62 954.81 A12 12 0 0 0 772.19 953.82 Z" fill="#A21942"/>
<path d="M769.91 965.66 A22.7 22.7 0 0 1 763.29 965.66 L765.22 955.12 A12 12 0 0 0 767.98 955.12 Z" fill="#FD6925"/>
<path d="M761.58 965.34 A22.7 22.7 0 0 1 755.4 962.94 L761.01 953.82 A12 12 0 0 0 763.58 954.81 Z" fill="#DD1367"/>
<path d="M753.92 962.03 A22.7 22.7 0 0 1 749.02 957.57 L757.55 951.08 A12 12 0 0 0 759.59 952.94 Z" fill="#FD9D24"/>
<path d="M747.97 956.17 A22.7 22.7 0 0 1 745.02 950.25 L755.32 947.28 A12 12 0 0 0 756.54 949.75 Z" fill="#BF8B2E"/>
<path d="M744.54 948.57 A22.7 22.7 0 0 1 743.93 941.97 L754.6 942.93 A12 12 0 0 0 754.86 945.67 Z" fill="#3F7E44"/>
<path d="M744.09 940.24 A22.7 22.7 0 0 1 745.91 933.87 L755.51 938.61 A12 12 0 0 0 754.76 941.26 Z" fill="#0A97D9"/>
<path d="M746.68 932.31 A22.7 22.7 0 0 1 750.67 927.02 L757.92 934.92 A12 12 0 0 0 756.26 937.11 Z" fill="#56C02B"/>
<path d="M751.96 925.85 A22.7 22.7 0 0 1 757.59 922.36 L761.5 932.34 A12 12 0 0 0 759.15 933.79 Z" fill="#00689D"/>
<path d="M759.22 921.73 A22.7 22.7 0 0 1 765.73 920.52 L765.76 931.23 A12 12 0 0 0 763.06 931.74 Z" fill="#19486A"/>
</g>
<text x="766.6" y="937.5" text-anchor="middle" font-family="Liberation Sans" font-weight="bold" font-size="2.6" fill="#3b8fd0">SUSTAINABLE</text>
<text x="766.6" y="940" text-anchor="middle" font-family="Liberation Sans" font-weight="bold" font-size="2.4" fill="#3b8fd0">DEVELOPMENT</text>
<text x="766.6" y="945" text-anchor="middle" font-family="Liberation Sans" font-weight="bold" font-size="5.2" fill="#3b8fd0" textLength="17" lengthAdjust="spacingAndGlyphs">GOALS</text>
<text x="757.5" y="948.8" font-family="Liberation Sans" font-weight="bold" font-size="3.2" fill="#2a2a6a" textLength="19" lengthAdjust="spacingAndGlyphs">MALA<tspan fill="#d22">YSIA</tspan></text>
<text x="746.8" y="972.3" font-family="Liberation Sans" font-weight="bold" font-size="6.6" fill="#222" textLength="39.2" lengthAdjust="spacingAndGlyphs">2016 - 2030</text>
</svg>
</body></html>
